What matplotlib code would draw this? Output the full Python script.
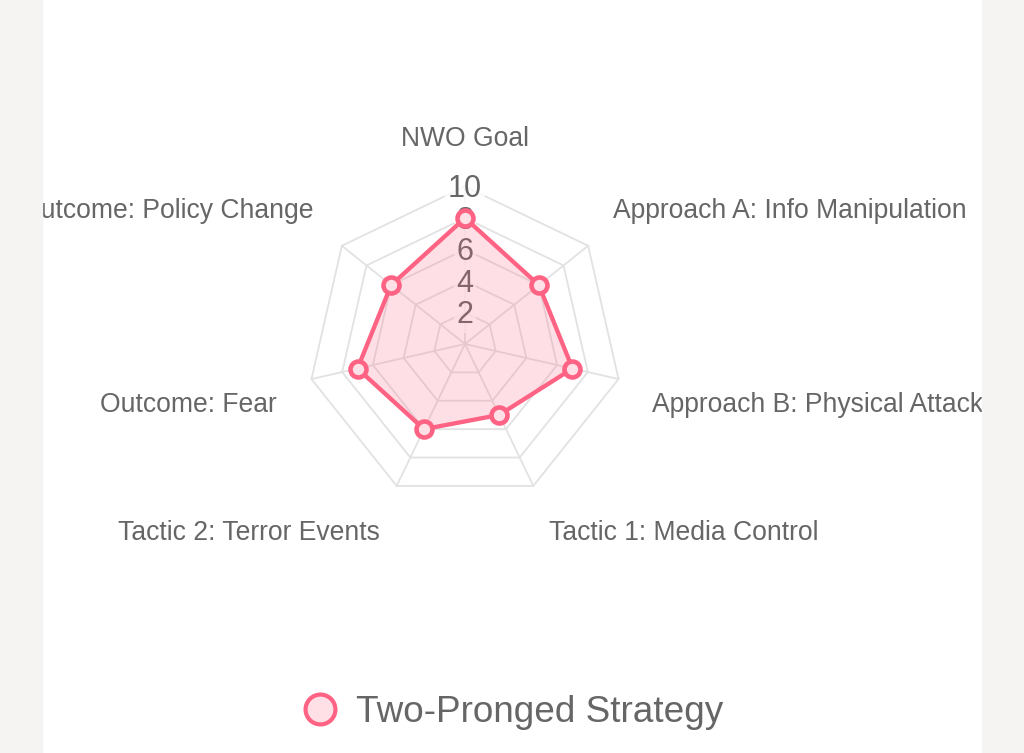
import numpy as np
import matplotlib
matplotlib.use("Agg")
import matplotlib.pyplot as plt
from matplotlib.patches import Rectangle
from matplotlib.lines import Line2D

plt.rcParams['font.family'] = ['Liberation Sans', 'DejaVu Sans']

# ---- data ----
categories = ["NWO Goal", "Approach A: Info Manipulation", "Approach B: Physical Attack",
              "Tactic 1: Media Control", "Tactic 2: Terror Events", "Outcome: Fear",
              "Outcome: Policy Change"]
values = [8, 6, 7, 5, 6, 7, 6]
series_name = "Two-Pronged Strategy"
tick_values = [2, 4, 6, 8, 10]
r_max = 10

W, H = 1024, 753
fig = plt.figure(figsize=(W / 100, H / 100), dpi=100)
fig.patch.set_facecolor("white")

def fx(x):
    return x / W

def fy(y):
    return 1 - y / H

# polar axes: centre (465,344) px, radius 157.5 px
cx, cy, R = 465, 344, 157.5
ax = fig.add_axes([fx(cx - R), fy(cy + R), 2 * R / W, 2 * R / H], projection="polar")
ax.set_theta_zero_location("N")
ax.set_theta_direction(-1)
ax.set_ylim(0, r_max)
ax.set_axis_off()

n = len(categories)
theta = np.arange(n) * 2 * np.pi / n
theta_c = np.append(theta, theta[0])

grid_color = "#e2e2e2"
# polygon rings
for t in tick_values:
    ax.plot(theta_c, [t] * (n + 1), color=grid_color, lw=1.3, zorder=1, clip_on=False)
# spokes
for th in theta:
    ax.plot([th, th], [0, r_max], color=grid_color, lw=1.3, zorder=1, clip_on=False)

# tick labels (centred on ring along the top axis)
tick_fs = 22
for t in tick_values:
    ax.annotate(str(t), xy=(0, t), xytext=(0, -0.716 * tick_fs / 2), textcoords="offset points",
                ha="center", va="baseline", fontsize=tick_fs, color="#666666", zorder=2,
                bbox=dict(boxstyle="square,pad=0.08", fc=(1, 1, 1, 0.75), ec="none"),
                annotation_clip=False)

line_color = "#FF6384"
fill_rgba = (1.0, 99 / 255, 132 / 255, 0.2)
vals_c = np.append(values, values[0])
ax.fill(theta_c, vals_c, color=fill_rgba, zorder=3, clip_on=False)
ax.plot(theta_c, vals_c, color=line_color, lw=3.1, zorder=4, clip_on=False)
ax.plot(theta, values, linestyle="none", marker="o", ms=11.5, mew=3.3,
        mfc="#ffe0e6", mec=line_color, zorder=5, clip_on=False)

# point labels
lab_fs = 19.1
lab_color = "#666666"
label_pos = [  # (x px, baseline y px, ha)
    (465, 146, "center"),
    (613, 218, "left"),
    (652, 412, "left"),
    (549, 540, "left"),
    (380, 540, "right"),
    (277, 412, "right"),
    (313, 218, "right"),
]
for name, (x, y, ha) in zip(categories, label_pos):
    fig.text(fx(x), fy(y), name, ha=ha, va="baseline", fontsize=lab_fs, color=lab_color)

# legend
handle = Line2D([], [], linestyle="none", marker="o", ms=21.5, mew=3.0,
                mfc="#ffe0e6", mec=line_color)
leg = fig.legend([handle], [series_name], loc="center", bbox_to_anchor=(fx(510.5), fy(712)),
                 frameon=False, fontsize=26.6, handletextpad=0.35, handlelength=1.2,
                 labelcolor="#666666")

# grey side panels (clip the labels at the white card edges)
side = "#f6f4f3"
fig.add_artist(Rectangle((0, 0), fx(42), 1, transform=fig.transFigure, color=side, zorder=10))
fig.add_artist(Rectangle((fx(982), 0), 1 - fx(982), 1, transform=fig.transFigure, color=side, zorder=10))

fig.savefig("out.png", dpi=100)
